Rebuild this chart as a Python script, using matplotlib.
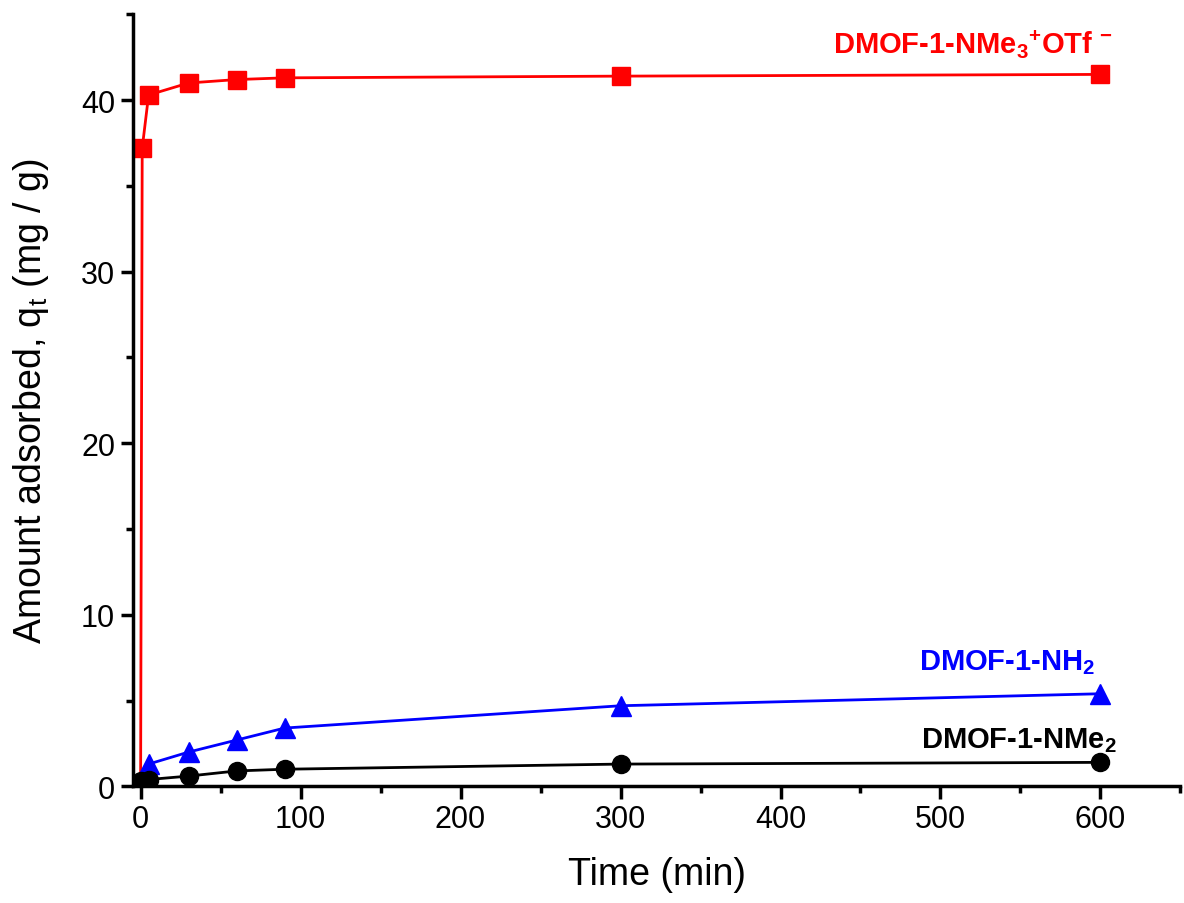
import matplotlib
matplotlib.use('Agg')
import matplotlib.pyplot as plt
from matplotlib.ticker import MultipleLocator

plt.rcParams['font.family'] = ['Liberation Sans', 'DejaVu Sans']
plt.rcParams['mathtext.fontset'] = 'custom'
plt.rcParams['mathtext.rm'] = 'Liberation Sans'
plt.rcParams['mathtext.bf'] = 'Liberation Sans:bold'

time_red = [0, 1, 5, 30, 60, 90, 300, 600]
q_red = [0, 37.2, 40.3, 41.0, 41.2, 41.3, 41.4, 41.5]
time = [0, 5, 30, 60, 90, 300, 600]
q_nh2 = [0.1, 1.3, 2.0, 2.7, 3.4, 4.7, 5.4]
q_nme2 = [0.3, 0.4, 0.6, 0.9, 1.0, 1.3, 1.4]

fig = plt.figure(figsize=(11.84, 9.04), dpi=100)
ax = fig.add_axes([0.112, 0.129, 0.885, 0.854])

ax.plot(time_red, q_red, '-', color='#ff0000', linewidth=2)
ax.plot(time_red[1:], q_red[1:], 's', color='#ff0000', markersize=13)
ax.plot(time, q_nh2, '-', color='#0000ff', linewidth=2)
ax.plot(time[1:], q_nh2[1:], '^', color='#0000ff', markersize=15)
ax.plot(time, q_nme2, '-', color='black', linewidth=2)
ax.plot(time, q_nme2, 'o', color='black', markersize=13)

ax.text(608, 43.3, r'DMOF-1-NMe$_\mathbf{3}$$^\mathbf{+}$OTf $^\mathbf{-}$', color='#ff0000',
        fontsize=21, fontweight='bold', ha='right', va='center')
ax.text(597, 7.3, r'DMOF-1-NH$_\mathbf{2}$', color='#0000ff',
        fontsize=21, fontweight='bold', ha='right', va='center')
ax.text(610, 2.75, r'DMOF-1-NMe$_\mathbf{2}$', color='black',
        fontsize=21, fontweight='bold', ha='right', va='center')

ax.set_xlim(-5, 650)
ax.set_ylim(0, 45)
ax.xaxis.set_major_locator(MultipleLocator(100))
ax.xaxis.set_minor_locator(MultipleLocator(50))
ax.yaxis.set_major_locator(MultipleLocator(10))
ax.yaxis.set_minor_locator(MultipleLocator(5))
ax.spines['top'].set_visible(False)
ax.spines['right'].set_visible(False)
ax.spines['left'].set_linewidth(2.5)
ax.spines['bottom'].set_linewidth(2.5)
ax.tick_params(which='major', direction='out', length=9, width=2.5, labelsize=22)
ax.tick_params(which='minor', direction='out', length=5, width=2.5)
ax.set_xlabel('Time (min)', fontsize=27, labelpad=16)
ax.set_ylabel(r'Amount adsorbed, q$_\mathrm{t}$ (mg / g)', fontsize=27, labelpad=22)

fig.savefig('out.png', dpi=100)
